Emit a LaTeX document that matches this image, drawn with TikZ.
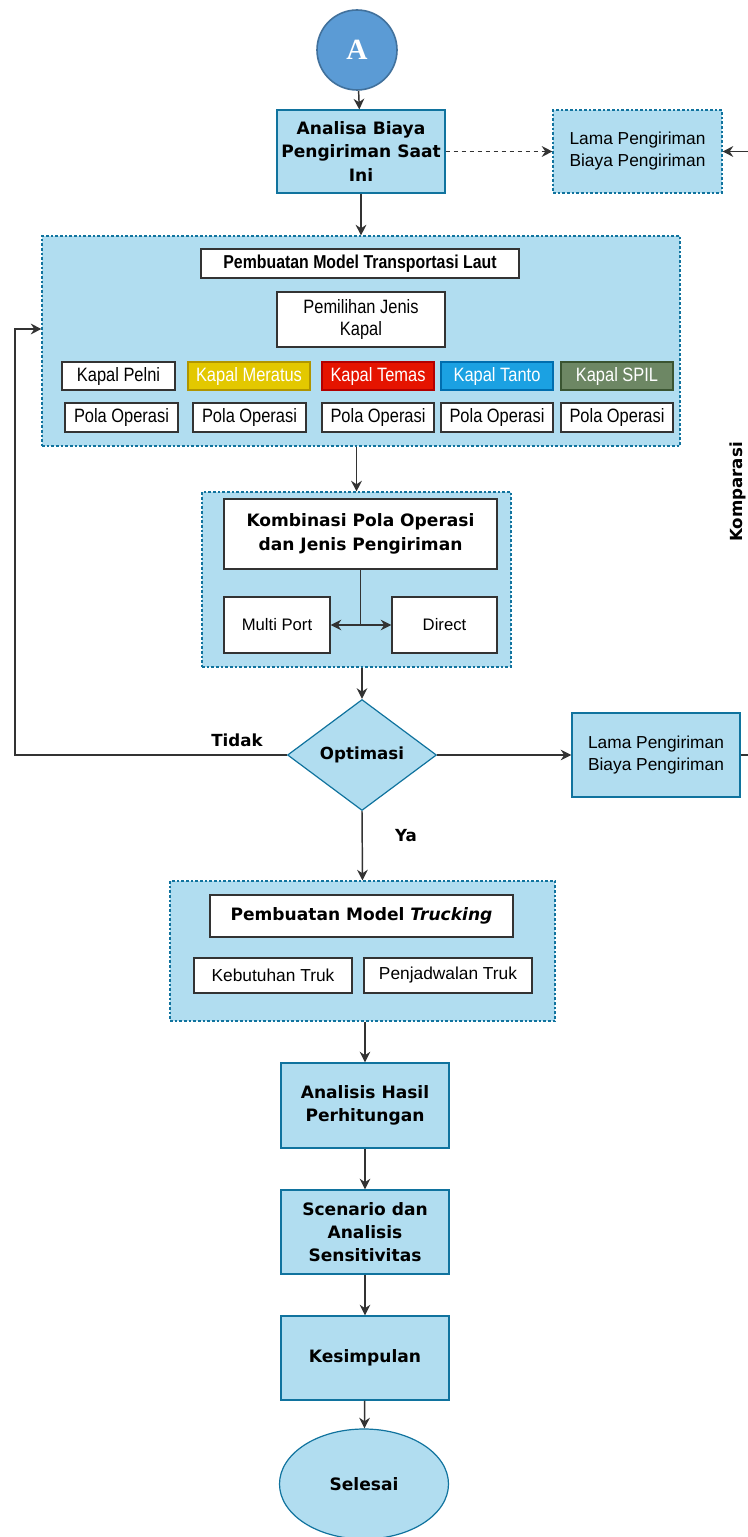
\documentclass[tikz,border=0pt]{standalone}
\usepackage{fontspec}
\setmainfont{Liberation Sans}
\newfontfamily\dv{DejaVu Sans}
\newfontfamily\nar[FakeStretch=0.85]{Liberation Sans}
\newfontfamily\serifA{Liberation Serif}
\usetikzlibrary{arrows.meta,shapes.geometric}
\definecolor{lb}{RGB}{177,221,240}
\definecolor{bb}{RGB}{16,115,158}
\definecolor{cA}{RGB}{91,155,213}
\definecolor{cAb}{RGB}{65,113,156}
\definecolor{cYel}{RGB}{227,200,0}
\definecolor{cYelb}{RGB}{176,149,0}
\definecolor{cRed}{RGB}{229,20,0}
\definecolor{cRedb}{RGB}{178,0,0}
\definecolor{cBlu}{RGB}{27,161,226}
\definecolor{cBlub}{RGB}{0,110,175}
\definecolor{cGrn}{RGB}{109,135,100}
\definecolor{cGrnb}{RGB}{58,84,49}
\definecolor{ln}{RGB}{51,51,51}
\begin{document}
\begin{tikzpicture}[x=0.75pt,y=-0.75pt,
  sz/.style 2 args={minimum width={#1*0.75pt},minimum height={#2*0.75pt}},
  bluebox/.style={draw=bb,fill=lb,line width=0.9pt,inner sep=0pt},
  grp/.style={bluebox,dash pattern=on 2pt off 1.5pt,line width=0.8pt},
  wht/.style={draw=black!80,fill=white,line width=0.9pt,inner sep=0pt},
  btxt/.style={font=\dv\bfseries\fontsize{12.8}{17.5}\selectfont,align=center},
  ntxt/.style={font=\fontsize{13}{16.5}\selectfont,align=center},
  nart/.style={font=\nar\fontsize{14.5}{17}\selectfont,align=center},
  colb/.style 2 args={draw=#2,fill=#1,text=white,line width=0.9pt,inner sep=0pt,sz={112}{28},nart},
  arr/.style={draw=ln,line width=1.1pt,-{Stealth[length=8pt,width=8pt]}},
  plain/.style={draw=ln,line width=1.1pt},
  lbl/.style={font=\dv\bfseries\fontsize{12.5}{15}\selectfont}
]
\useasboundingbox (0,0) rectangle (748,1537);
\fill[white] (0,0) rectangle (748,1537);

% start
\node[circle,draw=cAb,fill=cA,line width=1.2pt,sz={80}{80},inner sep=0pt,
      font=\serifA\bfseries\fontsize{22}{22}\selectfont,text=white] (A) at (357,50) {A};
\node[bluebox,sz={168}{83},btxt] (b1) at (361,151.5) {Analisa Biaya\\Pengiriman Saat\\Ini};
\node[grp,sz={169}{83},ntxt] (lama1) at (637.5,151.5) {Lama Pengiriman\\Biaya Pengiriman};

% sea transport model
\node[grp,sz={638}{210}] (big) at (361,341) {};
\node[wht,sz={318}{29},font=\nar\bfseries\fontsize{14}{17}\selectfont] (tl) at (360,263.5) {Pembuatan Model Transportasi Laut};
\node[wht,sz={168}{55},nart] (pj) at (361,319.5) {Pemilihan Jenis\\Kapal};
\node[wht,sz={113}{28},nart] (k1) at (118.5,376) {Kapal Pelni};
\node[colb={cYel}{cYelb},minimum width=91.5pt] (k2) at (249,376) {Kapal Meratus};
\node[colb={cRed}{cRedb}] (k3) at (378,376) {Kapal Temas};
\node[colb={cBlu}{cBlub}] (k4) at (497,376) {Kapal Tanto};
\node[colb={cGrn}{cGrnb}] (k5) at (617,376) {Kapal SPIL};
\node[wht,sz={113}{29},nart] (p1) at (121.5,417.5) {Pola Operasi};
\node[wht,sz={113}{29},nart] (p2) at (249.5,417.5) {Pola Operasi};
\node[wht,sz={112}{29},nart] (p3) at (378,417.5) {Pola Operasi};
\node[wht,sz={112}{29},nart] (p4) at (497,417.5) {Pola Operasi};
\node[wht,sz={112}{29},nart] (p5) at (617,417.5) {Pola Operasi};

% combination
\node[grp,sz={309}{175}] (komb) at (356.5,579.5) {};
\node[wht,sz={273}{70},btxt] (kt) at (360.5,534) {Kombinasi Pola Operasi\\dan Jenis Pengiriman};
\node[wht,sz={106}{56},font=\fontsize{12.5}{15}\selectfont] (mp) at (277,625) {Multi Port};
\node[wht,sz={105}{56},font=\fontsize{12.5}{15}\selectfont] (dr) at (444.5,625) {Direct};

% decision
\node[diamond,aspect=1.34,draw=bb,fill=lb,line width=0.9pt,inner sep=0pt,sz={149}{111},lbl] (opt) at (362,755) {Optimasi};
\node[bluebox,sz={168}{84},ntxt] (lama2) at (656,755) {Lama Pengiriman\\Biaya Pengiriman};
\node[lbl] (tidak) at (237,740) {Tidak};
\node[lbl] (ya) at (406,836) {Ya};
\node[lbl,rotate=90] (kom) at (738,492) {Komparasi};

% trucking
\node[grp,sz={385}{140}] (truck) at (362.5,951) {};
\node[wht,sz={303}{42},btxt] (tt) at (361.5,916) {Pembuatan Model \textit{Trucking}};
\node[wht,sz={158}{35},ntxt] (kb) at (273,975.5) {Kebutuhan Truk};
\node[wht,sz={168}{35},ntxt] (pjd) at (448,975.5) {Penjadwalan Truk};

% final steps
\node[bluebox,sz={168}{85},btxt] (ah) at (365,1105.5) {Analisis Hasil\\Perhitungan};
\node[bluebox,sz={168}{84},btxt] (sc) at (365,1232) {Scenario dan\\Analisis\\Sensitivitas};
\node[bluebox,sz={168}{84},btxt] (ks) at (365,1358) {Kesimpulan};
\node[ellipse,draw=bb,fill=lb,line width=0.9pt,inner sep=0pt,sz={169}{110},btxt] (sel) at (364,1484) {Selesai};

% connectors
\draw[arr] (A) -- (b1);
\draw[arr,dash pattern=on 3pt off 3pt] (b1) -- (lama1);
\draw[arr] (b1) -- (big);
\draw[arr] (komb.north |- big.south) -- (komb.north);
\draw[plain] (kt.south) -- (kt.south |- mp.east) coordinate (jn);
\draw[arr] (jn) -- (mp.east);
\draw[arr] (jn) -- (dr.west);
\draw[arr] (opt.north |- komb.south) -- (opt.north);
\coordinate (tk) at (15,329);
\draw[arr] (opt.west) -| (tk) -- (tk -| big.west);
\draw[arr] (opt.east) -- (lama2.west);
\coordinate (kc) at (749,151.5);
\draw[arr] (lama2.east) -| (kc) -- (lama1.east);
\draw[arr] (opt.south) -- (truck.north);
\draw[arr] (ah.north |- truck.south) -- (ah.north);
\draw[arr] (ah) -- (sc);
\draw[arr] (sc) -- (ks);
\draw[arr] (ks) -- (sel);
\end{tikzpicture}
\end{document}
